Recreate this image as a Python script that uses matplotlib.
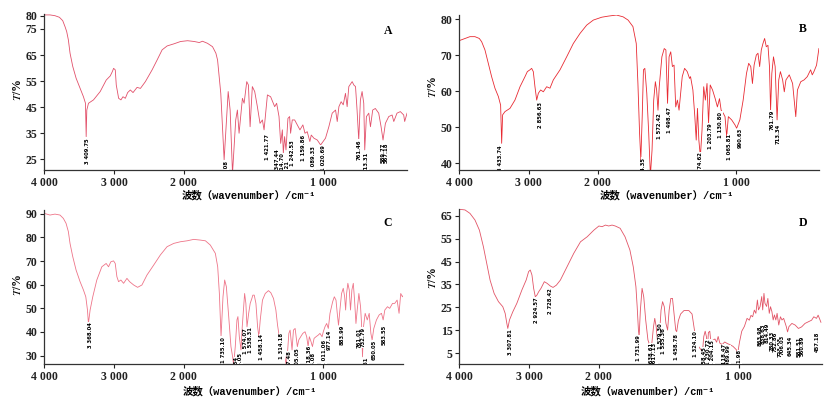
import numpy as np
import matplotlib
matplotlib.use("Agg")
import matplotlib.pyplot as plt

plt.rcParams['mathtext.fontset'] = 'stix'

# ---- spectrum A ----
A_wn = [4000, 3918, 3847, 3784, 3736, 3703, 3679, 3655, 3631, 3592,
        3544, 3487, 3439, 3410, 3400, 3391, 3367, 3295, 3199, 3113,
        3055, 3026, 3007, 2983, 2969, 2935, 2902, 2873, 2839, 2806,
        2767, 2729, 2671, 2623, 2552, 2456, 2384, 2312, 2240, 2144,
        2048, 1974, 1926, 1890, 1867, 1831, 1795, 1771, 1759, 1736,
        1712, 1683, 1669, 1652, 1629, 1617, 1605, 1581, 1569, 1550,
        1538, 1526, 1510, 1493, 1474, 1455, 1438, 1426, 1402, 1379,
        1350, 1336, 1319, 1307, 1295, 1288, 1279, 1269, 1255, 1243,
        1236, 1224, 1207, 1188, 1169, 1148, 1133, 1117, 1098, 1088,
        1069, 1045, 1021, 986, 962, 938, 914, 902, 890, 874,
        859, 843, 831, 819, 795, 783, 771, 760, 748, 736,
        724, 712, 705, 693, 676, 664, 648, 629, 605, 588,
        574, 557, 533, 509, 497, 474, 450, 426, 419, 402]
A_T = [80.4, 80.4, 80.1, 79.5, 78.2, 75.9, 74.0, 70.8, 65.7, 60.6,
       56.1, 52.2, 49.0, 46.5, 33.7, 43.9, 46.5, 47.8, 51.0, 55.4,
       57.0, 58.6, 59.9, 59.3, 53.5, 48.4, 47.8, 49.0, 48.4, 50.6,
       51.6, 50.6, 52.6, 52.2, 54.8, 59.3, 63.1, 67.0, 68.5, 69.3,
       70.2, 70.5, 70.2, 69.8, 70.3, 69.5, 68.2, 65.7, 63.1, 50.3,
       24.8, 51.0, 43.9, 19.6, 40.1, 43.9, 35.0, 48.4, 46.5, 54.8,
       53.5, 37.5, 52.9, 51.0, 45.2, 38.8, 40.1, 36.3, 49.7, 49.0,
       45.2, 46.5, 41.4, 31.1, 36.3, 27.3, 33.7, 28.6, 40.7, 41.4,
       35.0, 40.1, 40.1, 38.2, 36.3, 38.2, 35.0, 35.6, 31.8, 34.3,
       33.1, 32.4, 30.5, 33.1, 37.5, 42.7, 43.9, 39.5, 45.2, 47.1,
       45.9, 50.3, 45.2, 52.9, 54.8, 53.5, 52.9, 43.9, 32.4, 47.8,
       51.0, 46.5, 28.6, 41.4, 42.7, 37.5, 43.9, 44.5, 42.7, 37.5,
       32.4, 38.8, 41.4, 42.0, 39.5, 42.7, 43.3, 42.0, 39.5, 42.7]
A_pk = [3409.75, 1712.08, 1421.77, 1347.44, 1314.70, 1278.21, 1242.53,
        1159.86, 1089.33, 1020.69, 761.46, 713.31, 589.77, 567.18]
A_pk_T = [33.0, 24.5, 34.5, 29.0, 27.5, 24.5, 32.5,
          34.5, 30.0, 30.5, 32.5, 28.0, 31.5, 31.5]

# ---- spectrum B ----
B_wn = [4000, 3918, 3846, 3774, 3711, 3677, 3629, 3581, 3533, 3485,
        3436, 3403, 3388, 3374, 3340, 3268, 3196, 3123, 3051, 3017,
        2979, 2955, 2931, 2907, 2882, 2858, 2825, 2786, 2738, 2690,
        2642, 2545, 2449, 2353, 2256, 2160, 2064, 1971, 1924, 1865,
        1817, 1781, 1746, 1722, 1710, 1698, 1689, 1679, 1670, 1660,
        1646, 1632, 1620, 1608, 1596, 1584, 1575, 1565, 1556, 1537,
        1520, 1508, 1496, 1485, 1473, 1461, 1449, 1437, 1425, 1413,
        1401, 1390, 1373, 1354, 1337, 1330, 1313, 1299, 1289, 1280,
        1270, 1259, 1247, 1235, 1223, 1211, 1200, 1188, 1171, 1152,
        1136, 1121, 1109, 1093, 1081, 1069, 1057, 1033, 1009, 997,
        974, 950, 926, 910, 895, 883, 871, 855, 843, 831,
        819, 807, 795, 783, 771, 760, 752, 743, 731, 719,
        705, 693, 681, 665, 653, 641, 617, 593, 577, 570,
        558, 534, 510, 487, 463, 451, 439, 420, 403]
B_T = [74.0, 74.6, 75.1, 75.1, 74.6, 73.7, 71.4, 67.7, 64.0, 60.8,
       58.5, 56.1, 45.5, 53.4, 54.3, 55.2, 57.5, 61.2, 64.0, 65.4,
       65.9, 66.3, 65.4, 61.2, 57.5, 59.4, 60.3, 59.8, 61.2, 60.8,
       63.1, 65.9, 69.5, 73.2, 76.0, 78.3, 79.7, 80.5, 80.8, 81.1,
       80.6, 79.7, 77.9, 73.2, 62.1, 48.3, 40.9, 52.9, 65.9, 66.3,
       59.4, 48.3, 36.5, 43.6, 57.5, 62.6, 60.3, 54.7, 61.2, 69.5,
       71.8, 71.4, 56.6, 69.5, 70.9, 66.8, 67.2, 55.6, 57.5, 54.7,
       59.4, 64.0, 66.3, 65.4, 63.5, 64.0, 60.3, 52.9, 46.4, 55.2,
       46.4, 41.8, 49.2, 61.2, 57.5, 62.1, 51.0, 61.7, 60.3, 57.9,
       55.6, 57.9, 54.7, 53.8, 52.9, 47.4, 52.9, 52.0, 50.6, 49.7,
       52.0, 57.5, 64.9, 67.7, 66.8, 62.1, 67.2, 70.0, 70.5, 66.8,
       71.4, 73.2, 74.6, 72.3, 72.7, 66.8, 54.7, 64.9, 69.5, 66.8,
       52.0, 63.1, 65.4, 63.1, 59.8, 63.1, 64.5, 62.1, 55.6, 52.9,
       60.3, 62.6, 63.1, 64.0, 65.9, 64.5, 65.4, 67.2, 71.8]
B_pk = [3433.74, 2856.63, 1684.35, 1572.42, 1498.47, 1274.62, 1203.79,
        1130.80, 1065.81, 990.63, 761.79, 713.34]
B_pk_T = [45.0, 57.0, 41.5, 53.8, 55.5, 43.0, 51.0,
          54.3, 48.0, 49.7, 54.8, 51.0]

# ---- spectrum C ----
C_wn = [4000, 3918, 3847, 3775, 3727, 3688, 3655, 3631, 3592, 3544,
        3487, 3439, 3405, 3381, 3367, 3343, 3305, 3247, 3175, 3113,
        3079, 3046, 3007, 2983, 2959, 2935, 2902, 2863, 2815, 2777,
        2719, 2662, 2600, 2528, 2432, 2336, 2240, 2144, 2048, 1976,
        1929, 1881, 1845, 1810, 1774, 1757, 1745, 1733, 1719, 1707,
        1695, 1678, 1662, 1650, 1643, 1631, 1619, 1612, 1602, 1590,
        1581, 1571, 1564, 1555, 1547, 1535, 1524, 1512, 1505, 1495,
        1483, 1471, 1462, 1452, 1436, 1416, 1393, 1376, 1357, 1340,
        1328, 1319, 1305, 1290, 1276, 1266, 1257, 1247, 1238, 1231,
        1224, 1214, 1202, 1195, 1186, 1176, 1162, 1147, 1131, 1119,
        1109, 1100, 1088, 1078, 1066, 1052, 1036, 1024, 1009, 1000,
        988, 976, 964, 952, 933, 921, 909, 900, 891, 881,
        869, 857, 847, 840, 833, 824, 814, 805, 795, 785,
        776, 766, 757, 745, 733, 726, 719, 712, 700, 685,
        671, 659, 650, 638, 619, 600, 583, 571, 559, 540,
        524, 504, 488, 471, 457, 445, 433, 425]
C_T = [90.2, 89.5, 89.9, 89.5, 88.1, 86.0, 82.5, 77.5, 71.9, 66.2,
       61.3, 57.8, 54.9, 49.3, 43.6, 49.3, 54.9, 62.0, 67.6, 69.0,
       67.6, 69.7, 70.1, 69.0, 63.4, 61.3, 62.0, 60.6, 62.7, 61.3,
       59.9, 58.9, 59.9, 64.1, 68.3, 72.6, 76.1, 77.5, 78.2, 78.6,
       79.2, 78.9, 78.6, 76.8, 73.3, 67.6, 56.3, 38.0, 54.9, 62.0,
       59.2, 46.5, 33.8, 29.5, 26.0, 33.8, 45.1, 46.5, 38.0, 32.4,
       42.2, 50.7, 56.3, 52.1, 42.2, 47.9, 52.1, 54.2, 55.6, 55.6,
       52.1, 42.2, 38.0, 45.1, 53.5, 56.3, 57.5, 56.6, 54.2, 49.3,
       42.9, 39.4, 36.6, 33.8, 29.5, 26.0, 30.9, 39.4, 40.8, 36.6,
       32.4, 40.8, 41.5, 38.0, 33.8, 36.6, 38.0, 39.4, 40.1, 38.0,
       33.8, 38.0, 35.9, 33.8, 37.3, 38.0, 38.7, 39.4, 38.0, 40.1,
       42.2, 43.6, 41.5, 47.9, 52.8, 54.9, 53.5, 47.9, 42.9, 49.3,
       56.3, 58.5, 54.9, 49.3, 56.3, 60.6, 57.8, 49.3, 57.8, 60.6,
       53.5, 43.6, 49.3, 56.3, 50.7, 43.6, 29.5, 42.2, 47.9, 45.1,
       47.9, 39.4, 36.6, 41.5, 45.1, 47.2, 47.9, 45.1, 49.3, 50.7,
       50.0, 52.1, 52.1, 53.5, 47.9, 56.3, 54.9, 55.6]
C_pk = [3368.04, 1735.10, 1641.34, 1614.05, 1574.07, 1538.31, 1458.14,
        1314.18, 1257.48, 1205.05, 1118.36, 1086.08, 1011.06, 977.14,
        883.99, 761.01, 732.79, 708.61, 650.05, 583.55]
C_pk_T = [44.0, 38.0, 29.5, 31.0, 41.5, 42.0, 39.0,
          39.5, 32.0, 33.0, 34.0, 31.0, 36.5, 41.0,
          43.0, 42.0, 42.0, 29.5, 36.5, 43.0]

# ---- spectrum D ----
D_wn = [4000, 3918, 3847, 3775, 3712, 3655, 3607, 3559, 3501, 3439,
        3377, 3343, 3319, 3305, 3281, 3233, 3175, 3103, 3041, 3007,
        2983, 2959, 2935, 2911, 2887, 2863, 2830, 2782, 2743, 2695,
        2657, 2609, 2552, 2456, 2360, 2264, 2168, 2072, 2000, 1977,
        1953, 1930, 1906, 1883, 1848, 1813, 1778, 1754, 1735, 1726,
        1717, 1712, 1703, 1691, 1679, 1665, 1649, 1632, 1621, 1609,
        1600, 1590, 1579, 1567, 1555, 1544, 1532, 1520, 1508, 1497,
        1485, 1473, 1462, 1450, 1443, 1431, 1415, 1391, 1356, 1333,
        1319, 1309, 1297, 1286, 1270, 1258, 1249, 1239, 1230, 1223,
        1216, 1206, 1197, 1188, 1169, 1157, 1146, 1134, 1117, 1099,
        1080, 1064, 1040, 1017, 1005, 993, 977, 958, 939, 923,
        911, 899, 887, 876, 865, 857, 846, 834, 827, 818,
        811, 799, 790, 780, 771, 761, 752, 743, 733, 724,
        712, 700, 689, 677, 658, 649, 639, 618, 595, 571,
        548, 524, 501, 477, 461, 442, 430, 410]
D_T = [67.8, 67.5, 66.0, 63.1, 58.7, 51.5, 44.2, 36.9, 31.1, 27.5,
       25.3, 22.4, 18.0, 15.8, 19.5, 23.1, 26.8, 32.6, 37.0, 40.6,
       41.3, 39.1, 33.3, 29.6, 30.4, 31.8, 33.3, 36.2, 35.5, 34.3,
       33.7, 34.7, 36.9, 42.7, 48.6, 53.6, 55.8, 58.7, 60.5, 60.2,
       60.9, 60.5, 60.9, 60.5, 59.5, 55.8, 50.0, 42.7, 34.0, 25.3,
       15.1, 12.2, 23.8, 33.3, 29.6, 19.5, 10.8, 7.8, 9.3, 16.6,
       20.2, 16.6, 9.3, 12.2, 23.8, 27.5, 25.3, 18.0, 15.1, 23.8,
       28.9, 28.9, 22.4, 15.1, 14.4, 19.2, 22.1, 23.6, 23.6, 22.1,
       16.5, 12.3, 9.4, 7.9, 6.6, 5.8, 12.3, 14.6, 12.2, 6.6,
       14.0, 14.6, 9.2, 10.5, 11.2, 9.8, 12.3, 9.4, 8.8, 9.9,
       9.2, 8.8, 8.0, 6.6, 5.3, 9.9, 14.6, 16.7, 20.2, 19.4,
       21.5, 20.9, 23.8, 22.4, 28.2, 23.9, 25.3, 29.7, 23.9, 31.1,
       26.8, 25.4, 28.9, 22.4, 25.3, 23.1, 19.5, 21.7, 19.5, 22.4,
       17.3, 20.9, 19.5, 20.2, 16.6, 14.3, 16.6, 18.0, 17.3, 15.8,
       16.5, 18.0, 18.7, 19.4, 20.9, 20.2, 21.6, 18.5]
D_pk = [3307.81, 2924.57, 2728.42, 1731.99, 1638.61, 1617.13, 1579.30,
        1555.36, 1458.78, 1324.10, 1258.45, 1230.72, 1204.15, 1118.47,
        1089.99, 1011.98, 863.98, 838.63, 814.49, 780.33, 752.86,
        723.03, 706.03, 645.34, 581.51, 560.89, 457.18]
D_pk_T = [15.5, 29.5, 33.5, 13.0, 9.5, 9.5, 18.0,
          16.0, 13.5, 14.5, 7.5, 11.0, 10.5, 9.0,
          8.5, 6.5, 17.0, 18.0, 18.5, 15.0, 14.5,
          12.0, 13.0, 12.5, 12.5, 12.5, 14.5]

x_ticks = [4000, 3000, 2000, 1000]
x_ticklabels = ['4 000', '3 000', '2 000', '1 000']
xlabel = '波数（wavenumber）/cm⁻¹'


# below 2000 cm-1 the axis is stretched twice
def fwd(w):
    w = np.asarray(w, dtype=float)
    return np.where(w >= 2000, w, 2 * w - 2000)


def inv(u):
    u = np.asarray(u, dtype=float)
    return np.where(u >= 2000, u, (u + 2000) / 2)


panels = [
    dict(wn=A_wn, T=A_T, pk=A_pk, pkT=A_pk_T, name='A', color='#e2506a',
         rect=[0.0531, 0.5761, 0.4353, 0.3880], xmax=400, ylim=(20.9, 80.6),
         yticks=[25, 35, 45, 55, 65, 75, 80], letter=(0.947, 0.893),
         xl=(249, 195), yl=(18, 90)),
    dict(wn=B_wn, T=B_T, pk=B_pk, pkT=B_pk_T, name='B', color='#e82a32',
         rect=[0.5507, 0.5761, 0.4317, 0.3873], xmax=400, ylim=(38.1, 81.2),
         yticks=[40, 50, 60, 70, 80], letter=(0.955, 0.908),
         xl=(667, 195), yl=(433, 87)),
    dict(wn=C_wn, T=C_T, pk=C_pk, pkT=C_pk_T, name='C', color='#ee7488',
         rect=[0.0531, 0.0920, 0.4299, 0.3835], xmax=430, ylim=(26.4, 91.5),
         yticks=[30, 40, 50, 60, 70, 80, 90], letter=(0.959, 0.917),
         xl=(250, 391), yl=(18, 285)),
    dict(wn=D_wn, T=D_T, pk=D_pk, pkT=D_pk_T, name='D', color='#e25466',
         rect=[0.5507, 0.0923, 0.4353, 0.3870], xmax=400, ylim=(0.3, 68.0),
         yticks=[5, 15, 25, 35, 45, 55, 65], letter=(0.947, 0.908),
         xl=(648, 391), yl=(433, 278)),
]

W, H = 834, 401
fig = plt.figure(figsize=(W / 100, H / 100), dpi=100)

for p in panels:
    ax = fig.add_axes(p['rect'])
    ax.set_xscale('function', functions=(fwd, inv))
    ax.plot(p['wn'], p['T'], color=p['color'], lw=0.6)
    ax.set_xlim(4000, p['xmax'])
    ax.set_ylim(*p['ylim'])

    for w, t in zip(p['pk'], p['pkT']):
        lab = f"{w:,.2f}".replace(',', ' ')
        ax.text(w, t, lab, rotation=90, ha='left', va='top', fontsize=3.8,
                fontweight='bold', color='black', clip_on=True,
                bbox=dict(facecolor='white', edgecolor='none', pad=0.2))

    ax.set_xticks(x_ticks)
    ax.set_xticklabels(x_ticklabels)
    ax.xaxis.set_minor_locator(matplotlib.ticker.NullLocator())
    ax.set_yticks(p['yticks'])
    for s in ['top', 'right']:
        ax.spines[s].set_visible(False)
    for s in ['left', 'bottom']:
        ax.spines[s].set_linewidth(0.9)
        ax.spines[s].set_color('#333333')
    ax.tick_params(direction='out', length=3, width=0.8, pad=2,
                   colors='#222222')
    for t in ax.get_xticklabels() + ax.get_yticklabels():
        t.set_fontfamily('Liberation Serif')
        t.set_fontweight('bold')
        t.set_fontsize(8.5)

    ax.text(p['letter'][0], p['letter'][1], p['name'], transform=ax.transAxes,
            ha='center', va='center', fontsize=8.5, fontweight='bold',
            family='Liberation Serif')

    fig.text(p['xl'][0] / W, 1 - p['xl'][1] / H, xlabel, ha='center',
             va='center', fontsize=7.5, fontweight='bold',
             family=['Liberation Mono', 'Noto Sans CJK SC', 'DejaVu Sans'])
    fig.text(p['yl'][0] / W, 1 - p['yl'][1] / H, '$T$/%', rotation=90,
             ha='center', va='center', fontsize=8.5, fontweight='bold',
             family='Liberation Serif')

fig.savefig('out.png', dpi=100)
